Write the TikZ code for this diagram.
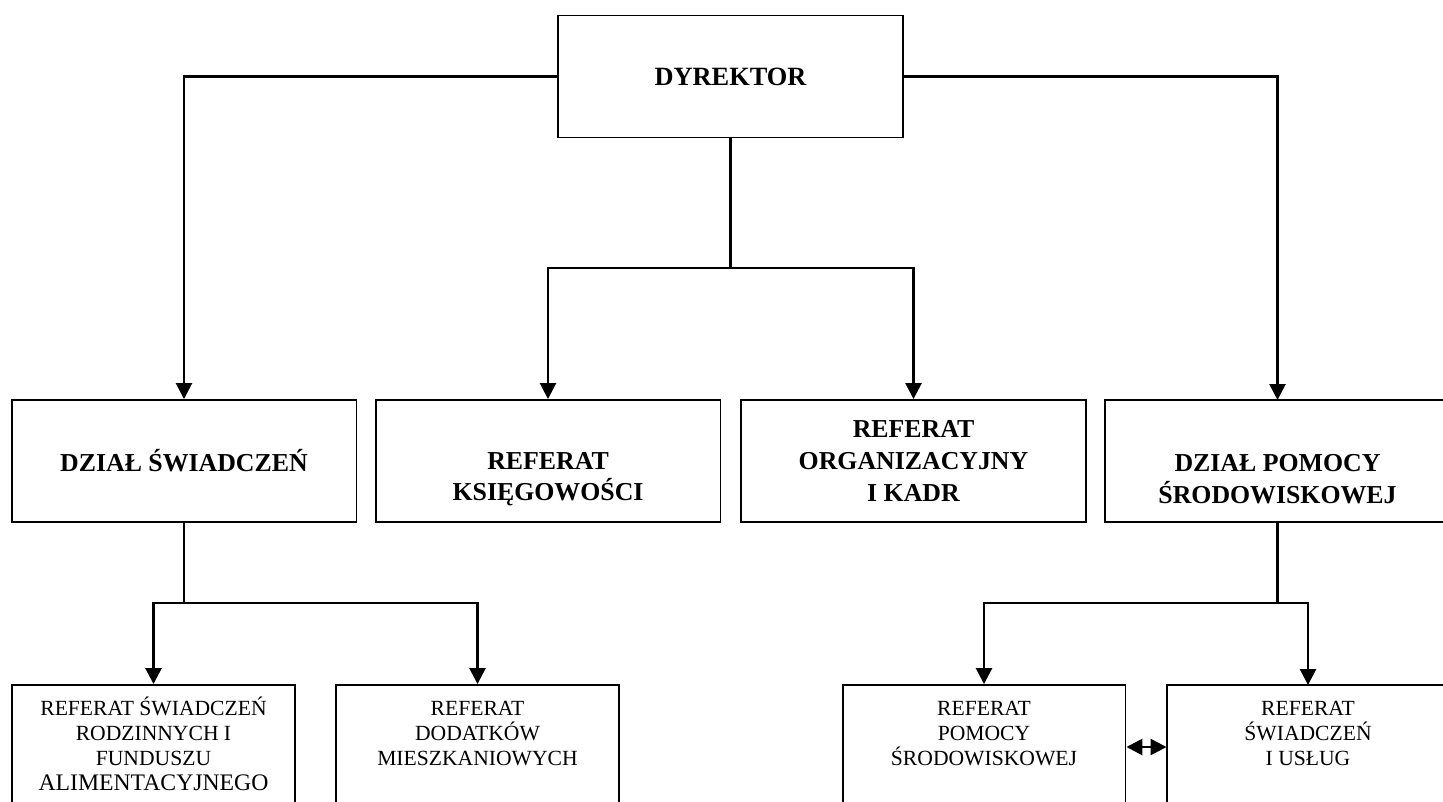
\documentclass[tikz,border=0pt]{standalone}
\usepackage{fontspec}
\setmainfont{Liberation Serif}
\usepackage{tikz}
\usetikzlibrary{arrows.meta}

\newcommand{\opis}[1]{\parbox[c][2.48cm][t]{5.66cm}{\centering\rule{0pt}{17.6pt}#1}}

\begin{document}
\begin{tikzpicture}[x=0.02cm, y=-0.02cm,
	ramka/.style={draw, line width=1.1pt, inner sep=0pt},
	dzial/.style={ramka, align=center, minimum width=6.9cm, minimum height=2.44cm, font=\fontsize{14.7}{18}\selectfont\bfseries},
	referat/.style={ramka, font=\fontsize{12.3}{14.2}\selectfont},
	linia/.style={line width=1.5pt},
	grot/.tip={Triangle[length=0.32cm, width=0.32cm]},
	strzalka/.style={linia, -grot}]
\useasboundingbox (0,0) rectangle (1443,801);
\clip (0,0) rectangle (1443,801);

% kierownictwo
\node[dzial, font=\fontsize{15}{18}\selectfont\bfseries] (dyrektor) at (730.5,76.5) {DYREKTOR};

% dzialy i referaty
\node[dzial] (swiadczenia) at (184,461) {DZIAŁ ŚWIADCZEŃ};
\node[dzial] (ksiegowosc) at (548,461) {\strut\\REFERAT\\KSIĘGOWOŚCI};
\node[dzial] (kadry) at (913.5,461) {REFERAT\\ORGANIZACYJNY\\I KADR};
\node[dzial, draw=none, outer sep=0pt] (pomoc) at (1277.5,461) {\strut\\DZIAŁ POMOCY\\ŚRODOWISKOWEJ};
\draw[line width=1.1pt] (pomoc.north east) -- (pomoc.north west) -- (pomoc.south west) -- (pomoc.south east);

% referaty dolne
\node[referat] (rodzinne) at (153.5,747) {\opis{REFERAT ŚWIADCZEŃ\\RODZINNYCH I\\FUNDUSZU\\{\fontsize{13.5}{14.2}\selectfont ALIMENTACYJNEGO}}};
\node[referat] (mieszkaniowe) at (477.5,747) {\opis{REFERAT\\DODATKÓW\\MIESZKANIOWYCH}};
\node[referat] (srodowiskowa) at (984,747) {\opis{REFERAT\\POMOCY\\ŚRODOWISKOWEJ}};
\node[referat, draw=none, outer sep=0pt] (uslugi) at (1308,747) {\opis{REFERAT\\ŚWIADCZEŃ\\I USŁUG}};
\draw[line width=1.1pt] (uslugi.north east) -- (uslugi.north west) -- (uslugi.south west);

% polaczenia
\draw[strzalka] (dyrektor.west) -| (swiadczenia.north);
\draw[strzalka] (dyrektor.east) -| (pomoc.north);

\coordinate (srodek) at (730.5,268);
\draw[linia] (dyrektor.south) -- (srodek);
\draw[strzalka] (srodek) -| (ksiegowosc.north);
\draw[strzalka] (srodek) -| (kadry.north);

\coordinate (lewy) at (184,603);
\draw[linia] (swiadczenia.south) -- (lewy);
\draw[strzalka] (lewy) -| (rodzinne.north);
\draw[strzalka] (lewy) -| (mieszkaniowe.north);

\coordinate (prawy) at (1277.5,603);
\draw[linia] (pomoc.south) -- (prawy);
\draw[strzalka] (prawy) -| (srodowiskowa.north);
\draw[strzalka] (prawy) -| (uslugi.north);

\draw[linia, grot-grot] (srodowiskowa.east) -- (uslugi.west);
\end{tikzpicture}
\end{document}
